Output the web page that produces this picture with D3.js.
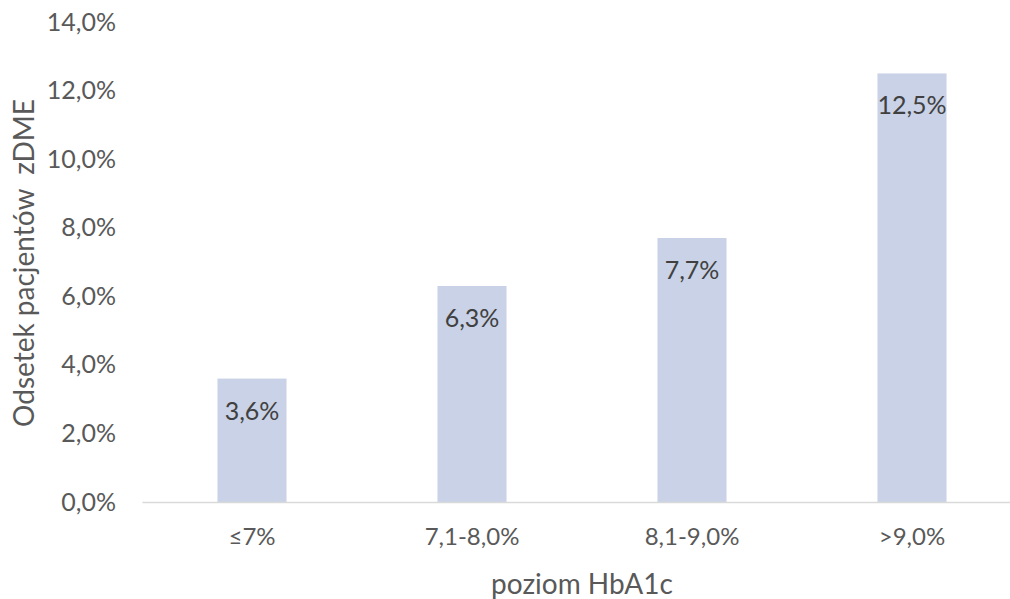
<!DOCTYPE html>
<html>
<head>
<meta charset="utf-8">
<script src="https://cdn.jsdelivr.net/npm/d3@7"></script>
<style>
  body { margin: 0; background: #fff; }
  svg text { font-family: Lato, "Open Sans", sans-serif; fill: #595959; }
</style>
</head>
<body>
<div class="chart"></div>
<script>
const categories = ["≤7%", "7,1-8,0%", "8,1-9,0%", ">9,0%"];
const values = [3.6, 6.3, 7.7, 12.5];
const yTicks = [0, 2, 4, 6, 8, 10, 12, 14];

const w = 1010, h = 599;
const margin = {left: 142, top: 22, bottom: 97};
const plotRight = 1022;

const fmt = v => d3.format(".1f")(v).replace(".", ",") + "%";

const svg = d3.select(".chart").append("svg").attr("width", w).attr("height", h);

const x = d3.scaleBand().domain(categories).range([margin.left, plotRight]).paddingInner(0.686).paddingOuter(0.343);
const y = d3.scaleLinear().domain([0, 14]).range([h - margin.bottom, margin.top]);

// y axis labels
const yAxis = d3.axisLeft(y).tickValues(yTicks).tickFormat(fmt).tickSize(0).tickPadding(26);
const gy = svg.append("g").attr("transform", "translate(" + margin.left + ",0)").call(yAxis);
gy.select(".domain").remove();
gy.selectAll("text").style("font-size", "25px").style("fill", "#595959");

// bars
svg.selectAll("rect.bar")
  .data(values)
  .enter()
  .append("rect")
  .attr("class", "bar")
  .attr("x", (d, i) => x(categories[i]))
  .attr("y", d => y(d))
  .attr("width", x.bandwidth())
  .attr("height", d => y(0) - y(d))
  .attr("fill", "#c9d2e7");

// baseline + category labels
const xAxis = d3.axisBottom(x).tickSize(0).tickPadding(26);
const gx = svg.append("g").attr("transform", "translate(0," + y(0) + ")").call(xAxis);
gx.select(".domain").attr("stroke", "#d9d9d9").attr("stroke-width", 1.5);
gx.selectAll("text").style("font-size", "24px").style("fill", "#595959");

// data labels
svg.selectAll("text.val")
  .data(values)
  .enter()
  .append("text")
  .attr("class", "val")
  .attr("x", (d, i) => x(categories[i]) + x.bandwidth() / 2)
  .attr("y", d => y(d) + 41)
  .attr("text-anchor", "middle")
  .style("font-size", "25px")
  .style("fill", "#404040")
  .text(fmt);

// axis titles
svg.append("text")
  .attr("transform", "translate(34," + 263 + ") rotate(-90)")
  .attr("text-anchor", "middle")
  .style("font-size", "28px")
  .style("white-space", "pre")
  .text("Odsetek pacjentów  zDME");

svg.append("text")
  .attr("x", 582)
  .attr("y", 594)
  .attr("text-anchor", "middle")
  .style("font-size", "28px")
  .text("poziom HbA1c");
</script>
</body>
</html>
